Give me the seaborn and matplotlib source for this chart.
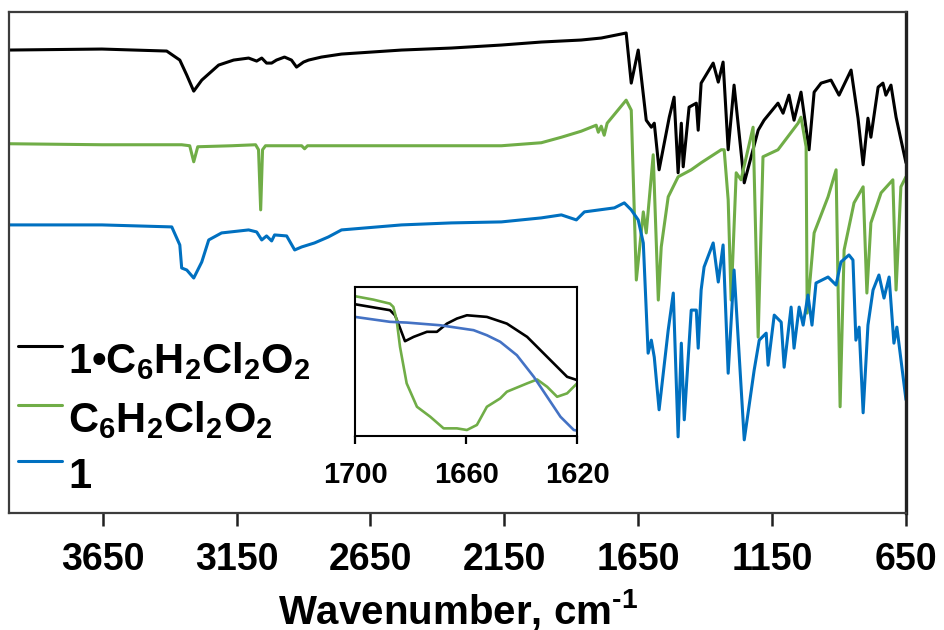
import numpy as np
import matplotlib
matplotlib.use('Agg')
import matplotlib.pyplot as plt
import seaborn as sns

# ---- main spectra: wavenumber (cm-1) / transmittance (a.u., offset) ----
wn_complex = [4000, 3653, 3411, 3362, 3336, 3310, 3280, 3217, 3161, 3105, 3075, 3056, 3038, 3019, 3001,
              2971, 2945, 2926, 2900, 2881, 2833, 2758, 2534, 2348, 2161, 2012, 1863, 1788, 1732, 1695,
              1676, 1650, 1620, 1601, 1590, 1572, 1534, 1516, 1501, 1489, 1482, 1460, 1433, 1426, 1415,
              1370, 1351, 1333, 1314, 1292, 1254, 1202, 1180, 1128, 1109, 1087, 1068, 1042, 1012, 993,
              967, 930, 900, 855, 829, 810, 792, 781, 754, 736, 725, 706, 687, 650]
t_complex = [92.4, 92.6, 92.2, 90.4, 87.4, 84.2, 86.4, 89.4, 90.4, 90.8, 90.2, 90.8, 89.8, 89.8, 90.4,
             91.0, 90.4, 89.0, 90.0, 90.4, 91.0, 91.6, 92.4, 92.8, 93.4, 94.0, 94.4, 94.8, 95.4, 95.8,
             85.8, 92.4, 78.4, 77.0, 77.8, 68.5, 79.0, 83.0, 67.9, 77.8, 69.1, 81.0, 81.8, 76.4, 85.8,
             89.8, 86.0, 90.0, 72.5, 85.4, 65.9, 76.4, 78.4, 81.8, 79.8, 83.4, 78.4, 84.0, 72.5, 84.0,
             85.8, 86.4, 83.4, 88.4, 78.8, 69.5, 78.8, 75.0, 85.0, 85.8, 83.4, 85.4, 79.0, 69.9]

wn_quinone = [4000, 3653, 3355, 3325, 3310, 3295, 3168, 3079, 3068, 3060, 3053, 3042, 2907, 2896, 2885,
              2534, 2161, 2012, 1937, 1863, 1807, 1799, 1788, 1777, 1766, 1695, 1676, 1657, 1631, 1620,
              1594, 1575, 1564, 1538, 1501, 1452, 1415, 1340, 1329, 1314, 1303, 1284, 1266, 1221, 1202,
              1184, 1128, 1053, 1042, 1023, 1019, 993, 941, 911, 896, 881, 844, 810, 796, 781, 743, 699,
              687, 669, 650]
t_quinone = [73.7, 73.5, 73.5, 73.3, 70.1, 73.1, 73.3, 73.5, 72.5, 60.5, 72.5, 73.3, 73.3, 72.7, 73.3,
             73.3, 73.3, 73.9, 75.0, 76.2, 77.4, 76.0, 77.2, 75.4, 77.8, 82.4, 80.4, 46.5, 60.1, 55.9,
             71.5, 42.5, 53.1, 63.1, 67.1, 68.5, 69.9, 72.5, 72.5, 62.5, 42.5, 67.9, 66.5, 77.0, 35.1,
             71.1, 72.5, 77.8, 79.0, 73.1, 39.9, 55.9, 63.1, 68.5, 21.2, 52.5, 61.9, 65.1, 43.9, 57.9,
             63.9, 66.5, 44.5, 65.1, 67.1]

wn_one = [4000, 3653, 3392, 3362, 3355, 3336, 3310, 3280, 3254, 3206, 3105, 3075, 3056, 3038, 3019,
          3008, 2963, 2933, 2907, 2859, 2807, 2758, 2534, 2348, 2161, 2012, 1937, 1881, 1851, 1739,
          1702, 1676, 1650, 1631, 1613, 1601, 1590, 1572, 1538, 1519, 1501, 1489, 1478, 1452, 1433,
          1426, 1415, 1404, 1370, 1351, 1333, 1314, 1292, 1254, 1217, 1198, 1172, 1165, 1142, 1116,
          1105, 1079, 1068, 1049, 1034, 1016, 1001, 986, 941, 911, 893, 863, 848, 837, 825, 810, 792,
          773, 751, 732, 713, 695, 684, 650]
t_one = [57.5, 57.5, 57.1, 53.5, 48.9, 48.5, 46.9, 50.1, 54.5, 55.9, 56.5, 56.1, 54.5, 55.3, 54.3,
         55.5, 55.3, 52.5, 53.1, 53.9, 55.1, 56.5, 57.5, 57.9, 58.1, 58.9, 59.5, 58.5, 60.1, 60.9,
         61.9, 60.5, 58.5, 53.9, 31.9, 34.5, 31.1, 20.6, 36.5, 43.9, 15.2, 33.9, 18.6, 40.5, 40.5,
         32.9, 44.5, 49.1, 53.9, 46.1, 53.5, 27.9, 48.5, 14.6, 28.5, 34.5, 35.9, 29.5, 39.5, 38.1,
         29.1, 41.1, 32.9, 41.1, 37.5, 43.5, 37.5, 45.9, 47.1, 45.5, 50.1, 51.5, 50.5, 34.5, 37.1,
         20.0, 37.5, 44.5, 47.5, 42.9, 47.1, 33.9, 37.1, 22.6]

# ---- inset: carbonyl region ----
wn_in_complex = [1700, 1687.4, 1685.6, 1684.4, 1682.0, 1678.9, 1674.1, 1670.5, 1666.9, 1663.3, 1659.7,
                 1652.5, 1645.3, 1638.0, 1630.8, 1623.6, 1620]
t_in_complex = [88.4, 84.4, 81.0, 75.4, 63.6, 66.5, 69.9, 69.9, 75.4, 78.8, 81.0,
                79.9, 75.4, 66.5, 53.1, 39.7, 37.5]
wn_in_quinone = [1700, 1693.4, 1687.4, 1686.2, 1685.0, 1683.8, 1681.4, 1677.7, 1672.9, 1668.1, 1663.3,
                 1659.7, 1656.1, 1652.5, 1647.7, 1645.3, 1638.0, 1634.4, 1630.8, 1627.2, 1623.6, 1620]
t_in_quinone = [93.8, 91.5, 88.8, 86.6, 77.7, 59.8, 35.3, 19.6, 12.9, 5.1, 5.1,
                4.0, 7.4, 19.6, 25.2, 29.7, 35.3, 37.9, 33.0, 26.3, 28.6, 35.3]
wn_in_one = [1700, 1687.4, 1681.4, 1669.3, 1657.3, 1652.5, 1647.7, 1641.7, 1635.6, 1630.8, 1626.0,
             1621.2, 1620]
t_in_one = [79.9, 76.6, 76.1, 74.3, 71.0, 67.6, 63.2, 54.2, 39.7, 26.3, 12.9, 4.0, 3.6]

labels = ['1•C$_6$H$_2$Cl$_2$O$_2$', 'C$_6$H$_2$Cl$_2$O$_2$', '1']
colors = ['#000000', '#70AD47', '#0070C0']
inset_blue = '#4472C4'
main_ticks = [3650, 3150, 2650, 2150, 1650, 1150, 650]
inset_ticks = [1700, 1660, 1620]

sns.set_theme(style='white')
plt.rcParams['font.family'] = ['Liberation Sans', 'DejaVu Sans']
plt.rcParams['font.weight'] = 'bold'
plt.rcParams['text.color'] = 'black'
plt.rcParams['axes.labelcolor'] = 'black'
plt.rcParams['xtick.color'] = 'black'
plt.rcParams['mathtext.fontset'] = 'custom'
for k in ['rm', 'it', 'bf', 'sf']:
    plt.rcParams['mathtext.' + k] = 'Liberation Sans:bold'

fig = plt.figure(figsize=(9.45, 6.3), dpi=100)
ax = fig.add_axes([0.0095, 0.1857, 0.9492, 0.7953])

for wn, t, lab, c in zip([wn_complex, wn_quinone, wn_one], [t_complex, t_quinone, t_one], labels, colors):
    sns.lineplot(x=wn, y=t, color=c, label=lab, linewidth=2.2, estimator=None, sort=False, ax=ax)

ax.set_xlim(4000, 650)
ax.set_ylim(0, 100)
ax.set_xticks(main_ticks)
ax.set_xticklabels([str(v) for v in main_ticks], fontsize=27, fontweight='bold')
ax.set_yticks([])
ax.set_ylabel('')
ax.tick_params(axis='x', direction='out', length=9, width=1.8, pad=12, color='#202020', bottom=True)
ax.set_xlabel(r'Wavenumber, cm$^{\text{-}1}$', fontsize=29, fontweight='bold', labelpad=6)
for s in ax.spines.values():
    s.set_color('#3c3c3c')
    s.set_linewidth(1.6)
ax.spines['right'].set_linewidth(2.4)
ax.spines['right'].set_color('#202020')

leg = ax.legend(loc='upper left', bbox_to_anchor=(0.01, 0.345), frameon=False, fontsize=30,
                handlelength=1.05, handletextpad=0.15, labelspacing=0.4, borderpad=0, borderaxespad=0)
for ln in leg.get_lines():
    ln.set_linewidth(2.2)
    ln.set_ydata(np.asarray(ln.get_ydata()) + 9)

# inset
axi = fig.add_axes([0.3757, 0.308, 0.235, 0.2365])
for wn, t, c in zip([wn_in_complex, wn_in_quinone, wn_in_one], [t_in_complex, t_in_quinone, t_in_one],
                    [colors[0], colors[1], inset_blue]):
    sns.lineplot(x=wn, y=t, color=c, linewidth=1.9, estimator=None, sort=False, legend=False, ax=axi)
axi.set_xlim(1700, 1620)
axi.set_ylim(0, 100)
axi.set_xticks(inset_ticks)
axi.set_xticklabels([str(v) for v in inset_ticks], fontsize=21, fontweight='bold')
axi.set_yticks([])
axi.set_xlabel('')
axi.set_ylabel('')
axi.tick_params(axis='x', direction='out', length=6, width=1.6, pad=12, color='black', bottom=True)
for s in axi.spines.values():
    s.set_color('black')
    s.set_linewidth(1.5)

fig.savefig('out.png', dpi=100, facecolor='white')
